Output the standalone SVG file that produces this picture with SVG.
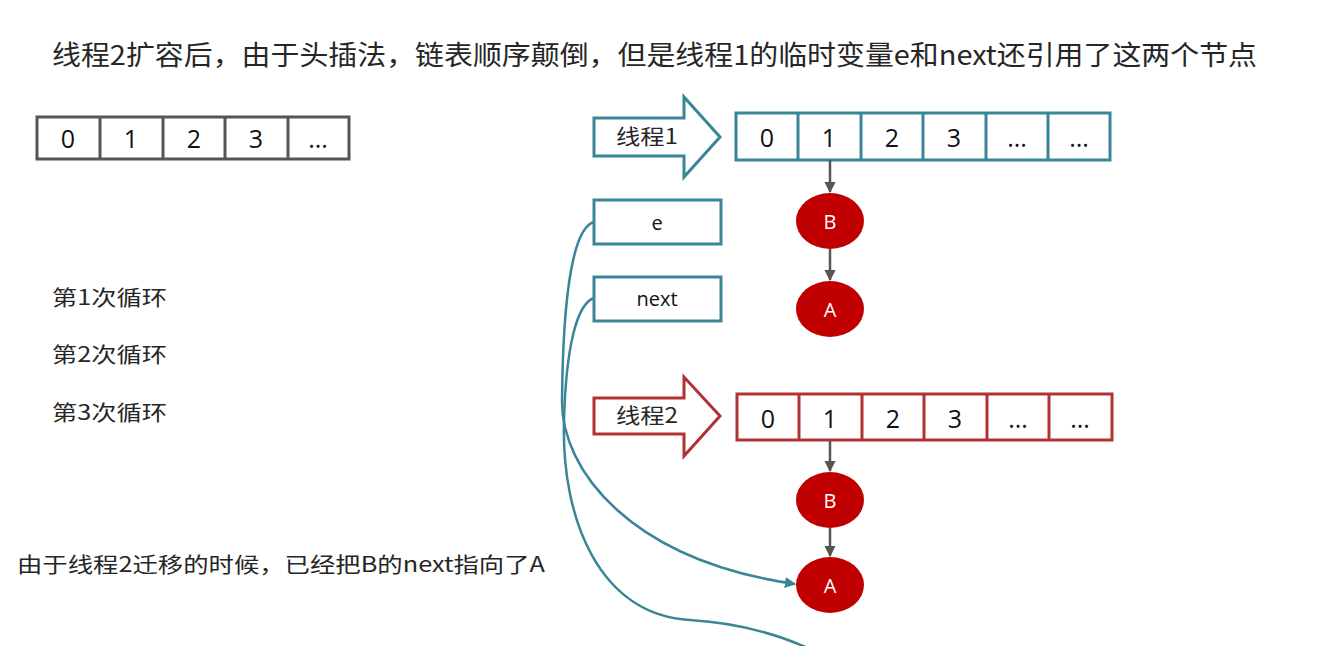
<svg xmlns="http://www.w3.org/2000/svg" width="1322" height="646" viewBox="0 0 1322 646">
<defs>
<style>
.t{font-family:"Noto Sans CJK SC","Liberation Sans",sans-serif;fill:#262626}
.c{font-family:"Open Sans","Liberation Sans",sans-serif;font-size:25px;fill:#111;text-anchor:middle;dominant-baseline:central}
.g{fill:#fff;stroke:#555;stroke-width:3}
.b{fill:#fff;stroke:#3a8597;stroke-width:3}
.r{fill:#fff;stroke:#b03232;stroke-width:3}
.n{fill:#c00000}
.nl{font-family:"Open Sans","Liberation Sans",sans-serif;font-size:20px;fill:#fff;text-anchor:middle;dominant-baseline:central}
.lbl{font-family:"Open Sans","Liberation Sans",sans-serif;font-size:20px;fill:#111;text-anchor:middle;dominant-baseline:central}
.ga{stroke:#555;stroke-width:2.5;fill:none;marker-end:url(#mg)}
.tc{stroke:#3a8597;stroke-width:2.5;fill:none}
</style>
<marker id="mg" viewBox="0 0 10 10" refX="9" refY="5" markerWidth="4.5" markerHeight="4.5" orient="auto"><path d="M0,0L10,5L0,10z" fill="#555"/></marker>
<marker id="mt" viewBox="0 0 10 10" refX="9" refY="5" markerWidth="4.5" markerHeight="4.5" orient="auto"><path d="M0,0L10,5L0,10z" fill="#3a8597"/></marker>
</defs>
<rect width="1322" height="646" fill="#fff"/>
<g id="title"><text class="t" x="52" y="65" font-size="27" textLength="1205" lengthAdjust="spacingAndGlyphs">线程2扩容后，由于头插法，链表顺序颠倒，但是线程1的临时变量e和next还引用了这两个节点</text></g>
<g id="array0">
<rect class="g" x="37" y="117" width="312" height="42"/>
<line class="g" x1="100" y1="117" x2="100" y2="159"/><line class="g" x1="163" y1="117" x2="163" y2="159"/><line class="g" x1="225" y1="117" x2="225" y2="159"/><line class="g" x1="288" y1="117" x2="288" y2="159"/>
<text class="c" x="68" y="138">0</text><text class="c" x="131" y="138">1</text><text class="c" x="194" y="138">2</text><text class="c" x="256" y="138">3</text><text class="c" x="318" y="138">...</text>
</g>
<g id="loops">
<text class="t" x="52" y="305" font-size="21" textLength="115" lengthAdjust="spacingAndGlyphs">第1次循环</text>
<text class="t" x="52" y="362" font-size="21" textLength="115" lengthAdjust="spacingAndGlyphs">第2次循环</text>
<text class="t" x="52" y="420" font-size="21" textLength="115" lengthAdjust="spacingAndGlyphs">第3次循环</text>
</g>
<g id="note"><text class="t" x="17" y="572" font-size="21" textLength="528" lengthAdjust="spacingAndGlyphs">由于线程2迁移的时候，已经把B的next指向了A</text></g>
<g id="thread1">
<path class="b" d="M594,118H684V97L720,137L684,177V156H594Z"/>
<text class="t" x="616" y="144" font-size="21" textLength="62" lengthAdjust="spacingAndGlyphs">线程1</text>
</g>
<g id="array1">
<rect class="b" x="736" y="113" width="374" height="47"/>
<line class="b" x1="798" y1="113" x2="798" y2="160"/><line class="b" x1="861" y1="113" x2="861" y2="160"/><line class="b" x1="923" y1="113" x2="923" y2="160"/><line class="b" x1="986" y1="113" x2="986" y2="160"/><line class="b" x1="1048" y1="113" x2="1048" y2="160"/>
<text class="c" x="767" y="137">0</text><text class="c" x="829" y="137">1</text><text class="c" x="892" y="137">2</text><text class="c" x="954" y="137">3</text><text class="c" x="1017" y="137">...</text><text class="c" x="1079" y="137">...</text>
</g>
<g id="e"><rect class="b" x="594" y="200" width="127" height="44"/><text class="lbl" x="657" y="222">e</text></g>
<g id="next"><rect class="b" x="594" y="277" width="127" height="44"/><text class="lbl" x="657" y="298">next</text></g>
<g id="B1"><ellipse class="n" cx="830" cy="221" rx="34" ry="28"/><text class="nl" x="830" y="221">B</text></g>
<g id="A1"><ellipse class="n" cx="830" cy="309" rx="34" ry="28"/><text class="nl" x="830" y="309">A</text></g>
<g id="thread2">
<path class="r" d="M594,398H684V377L720,416L684,456V434H594Z"/>
<text class="t" x="616" y="423" font-size="21" textLength="62" lengthAdjust="spacingAndGlyphs">线程2</text>
</g>
<g id="array2">
<rect class="r" x="737" y="394" width="375" height="46"/>
<line class="r" x1="799" y1="394" x2="799" y2="440"/><line class="r" x1="862" y1="394" x2="862" y2="440"/><line class="r" x1="924" y1="394" x2="924" y2="440"/><line class="r" x1="987" y1="394" x2="987" y2="440"/><line class="r" x1="1049" y1="394" x2="1049" y2="440"/>
<text class="c" x="768" y="418">0</text><text class="c" x="830" y="418">1</text><text class="c" x="893" y="418">2</text><text class="c" x="955" y="418">3</text><text class="c" x="1018" y="418">...</text><text class="c" x="1080" y="418">...</text>
</g>
<g id="B2"><ellipse class="n" cx="830" cy="500" rx="34" ry="28"/><text class="nl" x="830" y="500">B</text></g>
<g id="A2"><ellipse class="n" cx="830" cy="585" rx="34" ry="28"/><text class="nl" x="830" y="585">A</text></g>
<g id="connectors">
<line class="ga" x1="830" y1="160" x2="830" y2="192"/>
<line class="ga" x1="830" y1="249" x2="830" y2="280"/>
<line class="ga" x1="830" y1="440" x2="830" y2="471"/>
<line class="ga" x1="830" y1="528" x2="830" y2="556"/>
<path class="tc" marker-end="url(#mt)" d="M594,222C572,228 563,300 562,400C561,470 630,560 795,584"/>
<path class="tc" d="M594,298C576,304 566,350 564,420C561,520 600,615 690,620C740,623 780,635 812,650"/>
</g>
</svg>
